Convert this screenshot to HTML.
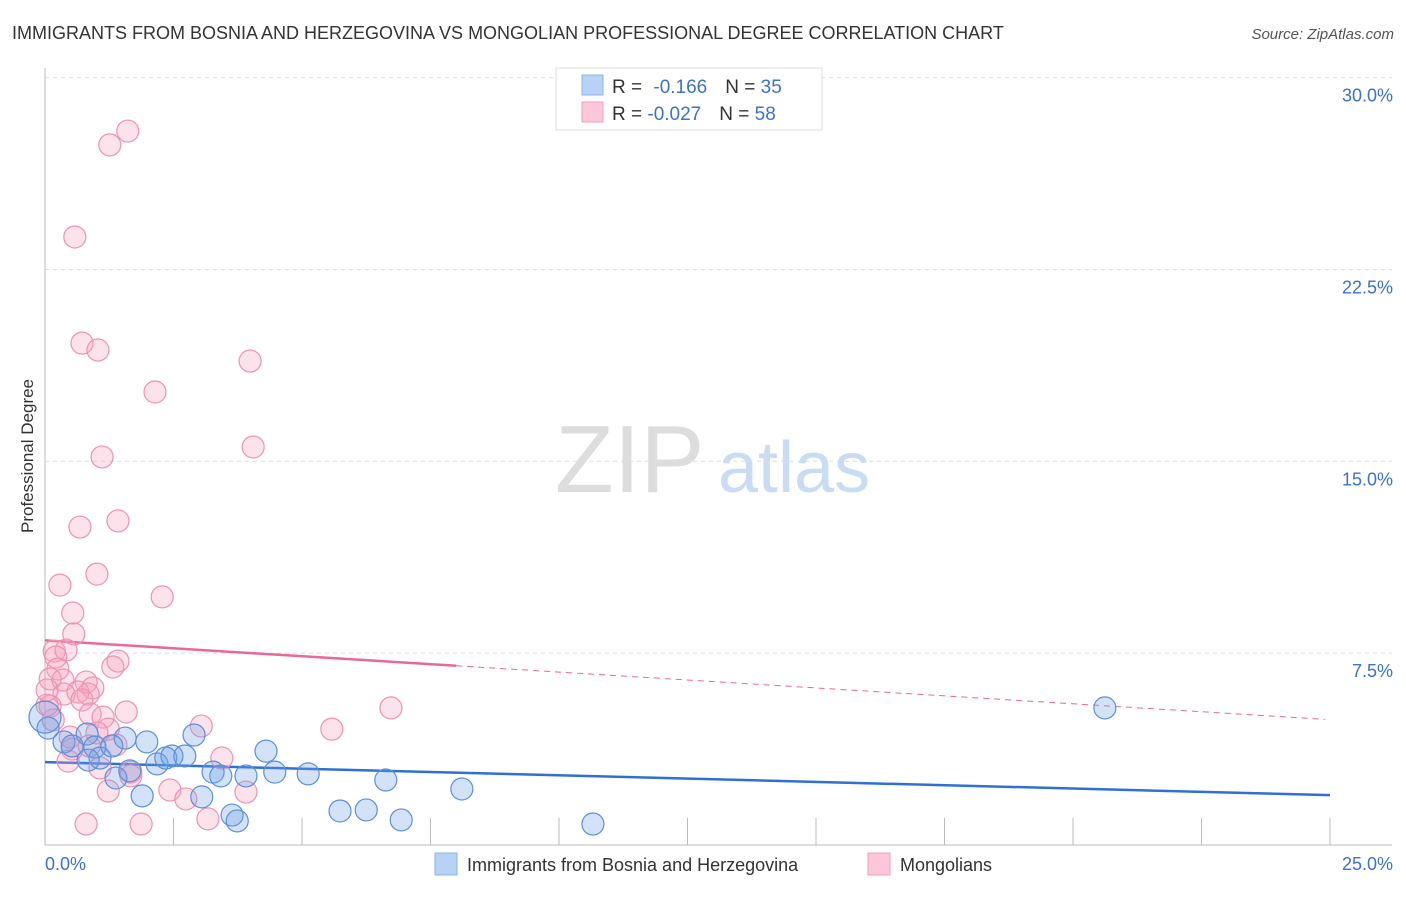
<!DOCTYPE html>
<html><head><meta charset="utf-8"><style>
body{margin:0;background:#fff;font-family:"Liberation Sans",sans-serif;}
svg text{font-family:"Liberation Sans",sans-serif;}
</style></head><body>
<svg id="chart" width="1406" height="892">
<text x="12" y="39" font-size="18" fill="#333">IMMIGRANTS FROM BOSNIA AND HERZEGOVINA VS MONGOLIAN PROFESSIONAL DEGREE CORRELATION CHART</text>
<text x="1394" y="39" font-size="15" fill="#555" font-style="italic" text-anchor="end">Source: ZipAtlas.com</text>
<text x="33" y="456" font-size="17" fill="#333" text-anchor="middle" transform="rotate(-90 33 456)">Professional Degree</text>
<g>
<text x="555" y="492" font-size="96" fill="#ddd" font-family="Liberation Serif,serif">ZIP</text>
<text x="718" y="492" font-size="72" fill="#c9dcf3">atlas</text>
</g>
<g id="grid"></g><g id="axes"></g><g id="trends"></g><g id="pts"></g>
<g>
<rect x="556" y="68" width="266" height="62" fill="#fff" stroke="#ddd"/>
<rect x="582" y="75" width="21" height="20" fill="#b8d2f5" stroke="#8ab3e8"/>
<rect x="582" y="102" width="21" height="20" fill="#fcc8d8" stroke="#f0a0bb"/>
<text x="612" y="93" font-size="19" fill="#333">R = <tspan fill="#3b72d0" dx="6">-0.166</tspan><tspan fill="#333" dx="18">N = </tspan><tspan fill="#3b72d0">35</tspan></text>
<text x="612" y="120" font-size="19" fill="#333">R = <tspan fill="#3b72d0">-0.027</tspan><tspan fill="#333" dx="18">N = </tspan><tspan fill="#3b72d0">58</tspan></text>
</g>
<g>
<rect x="435" y="853" width="22" height="22" fill="#b8d2f5" stroke="#8ab3e8"/>
<text x="467" y="871" font-size="18" fill="#333">Immigrants from Bosnia and Herzegovina</text>
<rect x="868" y="853" width="22" height="22" fill="#fcc8d8" stroke="#f0a0bb"/>
<text x="900" y="871" font-size="18" fill="#333">Mongolians</text>
</g>
</svg>
<script>
const yTicks=[7.5,15,22.5,30];
const yTickLabels=["7.5%","15.0%","22.5%","30.0%"];
const xTicks=[0,2.5,5,7.5,10,12.5,15,17.5,20,22.5,25];
const blueX=[0.06,0,0.37,0.53,0.82,0.97,1.07,0.84,1.38,1.56,1.30,1.98,1.89,2.18,2.35,2.47,2.72,2.90,3.05,3.27,3.42,3.64,3.74,3.91,4.30,4.47,5.12,5.74,6.25,6.63,6.93,8.11,10.66,20.62,1.65];
const blueY=[4.57,5.0,4.03,3.87,4.34,3.83,3.40,3.32,2.62,4.18,3.87,4.03,1.92,3.17,3.40,3.48,3.48,4.30,1.88,2.85,2.70,1.17,0.94,2.70,3.67,2.85,2.78,1.33,1.37,2.54,0.98,2.19,0.82,5.36,2.9];
const pinkX=[1.61,1.26,0.58,0.72,1.03,3.99,2.14,4.05,1.11,1.42,0.68,1.01,0.29,2.28,0.54,0.56,0.18,0.41,0.21,1.42,1.32,0.25,0.10,0.35,0.80,0.93,0.64,0.37,0.84,0.72,1.58,0.88,1.13,0.10,1.23,3.04,6.73,5.58,1.01,0.49,0.86,1.38,0.53,0.45,1.07,1.67,1.67,3.44,1.23,2.43,2.74,3.91,3.17,0.80,1.87,0.04,0.04,0.16];
const pinkY=[27.91,27.37,23.77,19.62,19.35,18.92,17.71,15.56,15.17,12.67,12.43,10.59,10.16,9.70,9.07,8.25,7.58,7.62,7.35,7.19,6.96,6.88,6.49,6.45,6.37,6.14,5.98,5.90,5.90,5.67,5.20,5.12,5.00,5.43,4.53,4.65,5.36,4.53,4.38,4.22,3.87,3.91,3.75,3.28,3.01,2.85,2.70,3.40,2.11,2.15,1.80,2.07,1.02,0.82,0.82,5.47,6.06,4.89];
const blueTrend=[3.24,1.95];
const pinkTrend=[8.0,4.9];
const pinkSolidEnd=8;
const NS="http://www.w3.org/2000/svg";
const X=v=>45+v/25*1285, Y=v=>845-v*25.58;
function mk(tag,attrs,parent){const e=document.createElementNS(NS,tag);for(const k in attrs)e.setAttribute(k,attrs[k]);document.getElementById(parent).appendChild(e);return e;}
yTicks.forEach((t,i)=>{
 const l=mk('line',{x1:45,x2:1392,y1:Y(t),y2:Y(t),stroke:'#ddd','stroke-dasharray':'4,4'},'grid');
 
 
 const tx=mk('text',{x:1393,y:Y(t)+24,'font-size':18,fill:'#3b72d0','text-anchor':'end'},'grid');
 tx.textContent=yTickLabels[i];
 
 
});
mk('line',{x1:45,x2:45,y1:68,y2:845,stroke:'#bbb'},'axes');
mk('line',{x1:45,x2:1392,y1:845,y2:845,stroke:'#bbb'},'axes');
xTicks.forEach(t=>{
 const l=mk('line',{x1:X(t),x2:X(t),y1:818,y2:845,stroke:'#bbb'},'axes');
 
 
});
const xl0=mk('text',{x:45,y:870,'font-size':18,fill:'#3b72d0'},'axes');xl0.textContent='0.0%';


const xl1=mk('text',{x:1393,y:870,'font-size':18,fill:'#3b72d0','text-anchor':'end'},'axes');xl1.textContent='25.0%';


function dot(x,y,fill,stroke,r,name){const c=mk('circle',{cx:X(x),cy:Y(y),r:r,fill:fill,stroke:stroke,'stroke-width':1.2},'pts');
 
 }
pinkX.forEach((x,i)=>dot(x,pinkY[i],'rgba(244,160,188,0.3)','#ec94b2',11,'mongolian-point'));
blueX.forEach((x,i)=>dot(x,blueY[i],'rgba(110,160,230,0.3)','#5b90dc',i===1?16:11,'bosnia-point'));
const bt=mk('line',{x1:X(0),y1:Y(blueTrend[0]),x2:X(25),y2:Y(blueTrend[1]),stroke:'#2f6fd6','stroke-width':2.5},'trends');


const pAt=x=>pinkTrend[0]+(pinkTrend[1]-pinkTrend[0])*x/25;
const ps=mk('line',{x1:X(0),y1:Y(pAt(0)),x2:X(pinkSolidEnd),y2:Y(pAt(pinkSolidEnd)),stroke:'#e8689a','stroke-width':2.5},'trends');


const pd=mk('line',{x1:X(pinkSolidEnd),y1:Y(pAt(pinkSolidEnd)),x2:X(24.9),y2:Y(pAt(24.9)),stroke:'#e8689a','stroke-width':1,'stroke-dasharray':'6,5'},'trends');


</script>
</body></html>
